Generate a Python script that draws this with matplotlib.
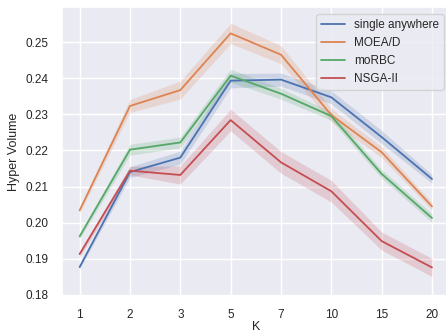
import matplotlib
matplotlib.use("Agg")
import matplotlib.pyplot as plt
import seaborn as sns

sns.set_theme(style="darkgrid")
plt.rcParams["font.family"] = ["Liberation Sans", "DejaVu Sans"]

k_labels = ["1", "2", "3", "5", "7", "10", "15", "20"]

single_anywhere = [0.1877, 0.2140, 0.2180, 0.2393, 0.2396, 0.2347, 0.2237, 0.2121]
moead = [0.2034, 0.2323, 0.2367, 0.2524, 0.2465, 0.2298, 0.2195, 0.2045]
morbc = [0.1962, 0.2202, 0.2222, 0.2407, 0.2357, 0.2295, 0.2135, 0.2013]
nsga2 = [0.1913, 0.2144, 0.2132, 0.2284, 0.2167, 0.2087, 0.1949, 0.1876]

single_ci = [0.0005, 0.0015, 0.0018, 0.0020, 0.0018, 0.0018, 0.0018, 0.0012]
moead_ci = [0.0008, 0.0018, 0.0025, 0.0028, 0.0025, 0.0018, 0.0015, 0.0010]
morbc_ci = [0.0007, 0.0015, 0.0015, 0.0018, 0.0015, 0.0012, 0.0012, 0.0012]
nsga2_ci = [0.0008, 0.0012, 0.0025, 0.0030, 0.0030, 0.0030, 0.0025, 0.0025]

series = [
    ("single anywhere", single_anywhere, single_ci),
    ("MOEA/D", moead, moead_ci),
    ("moRBC", morbc, morbc_ci),
    ("NSGA-II", nsga2, nsga2_ci),
]
colors = sns.color_palette("deep")

fig = plt.figure(figsize=(4.46, 3.34), dpi=100)
ax = fig.add_axes([62 / 446, 38 / 334, 387.6 / 446, 289 / 334])

x = list(range(len(k_labels)))
for (name, vals, ci), c in zip(series, colors):
    lo = [v - e for v, e in zip(vals, ci)]
    hi = [v + e for v, e in zip(vals, ci)]
    ax.fill_between(x, lo, hi, color=c, alpha=0.2, linewidth=0)
    ax.plot(x, vals, color=c, linewidth=1.3, label=name)

ax.set_xticks(x)
ax.set_xticklabels(k_labels)
ax.set_xlim(-0.35, 7.35)
ax.set_ylim(0.1797, 0.2597)
ax.set_yticks([0.18, 0.19, 0.20, 0.21, 0.22, 0.23, 0.24, 0.25])
ax.tick_params(labelsize=8.5)
ax.set_xlabel("K", fontsize=9, labelpad=0)
ax.set_ylabel("Hyper Volume", fontsize=9)
ax.legend(loc="upper right", bbox_to_anchor=(1.0, 0.995), fontsize=8.5)

fig.savefig("out.png", dpi=100)
